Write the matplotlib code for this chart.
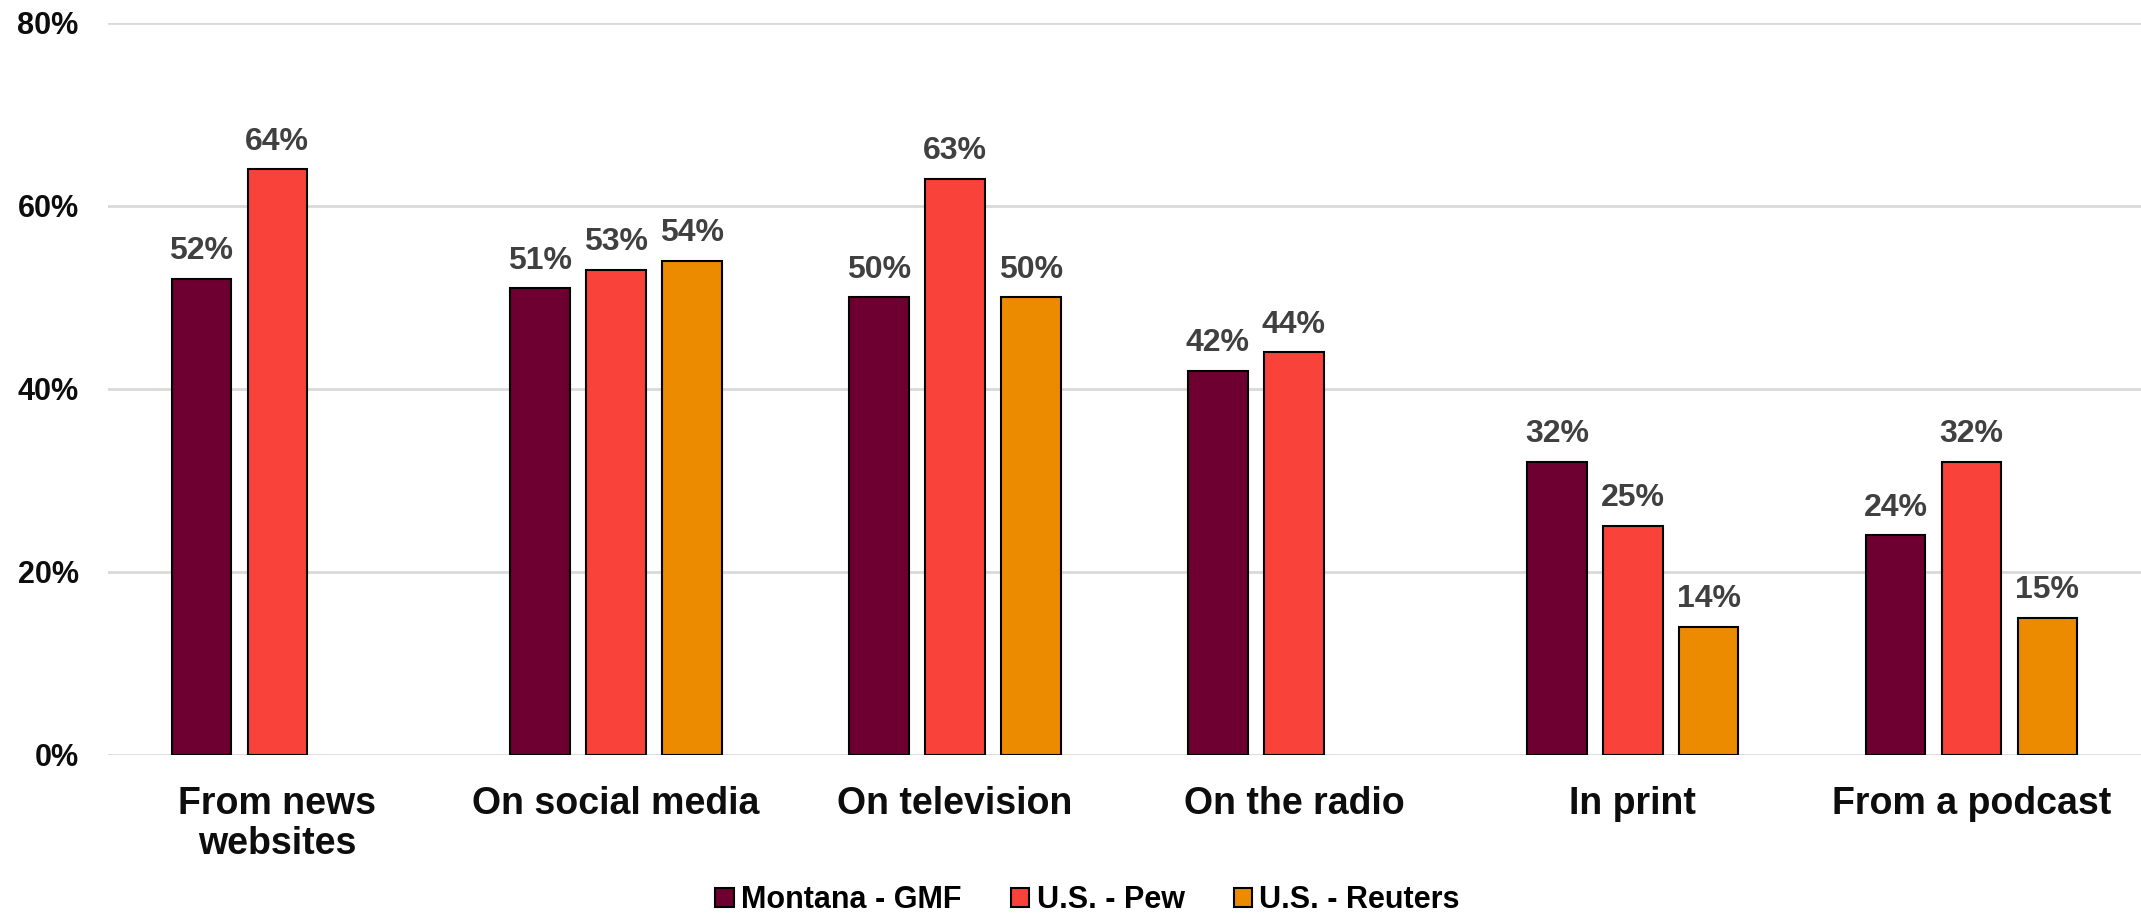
import numpy as np
import matplotlib.pyplot as plt

categories = ["From news\nwebsites", "On social media", "On television",
              "On the radio", "In print", "From a podcast"]
series = ["Montana - GMF", "U.S. - Pew", "U.S. - Reuters"]
montana = [52, 51, 50, 42, 32, 24]
pew = [64, 53, 63, 44, 25, 32]
reuters = [np.nan, 54, 50, np.nan, 14, 15]
colors = ["#6d0030", "#f9423a", "#ec8b00"]

plt.rcParams["font.family"] = "Liberation Sans"
plt.rcParams["font.weight"] = "bold"

fig = plt.figure(figsize=(21.41, 9.19), dpi=100)
ax = fig.add_axes([0.0504, 0.1785, 0.9496, 0.7965])

x = np.arange(len(categories))
w = 0.176
step = 0.224
for i, (vals, c, name) in enumerate(zip([montana, pew, reuters], colors, series)):
    pos = x + (i - 1) * step
    ax.bar(pos, vals, w, color=c, edgecolor="black", linewidth=1.5,
           label=name, zorder=3)
    for p, v in zip(pos, vals):
        if not np.isnan(v):
            ax.text(p, v + 1.4, f"{v:.0f}%", ha="center", va="bottom",
                    fontsize=23, fontweight="bold", color="#404040")

ax.set_xlim(-0.5, len(categories) - 0.5)
ax.set_ylim(0, 80)
ax.set_yticks([0, 20, 40, 60, 80])
ax.set_yticklabels(["0%", "20%", "40%", "60%", "80%"], fontsize=22,
                   fontweight="bold", color="#0d0d0d")
ax.set_xticks(x)
ax.set_xticklabels(categories, fontsize=27, fontweight="bold", color="#0d0d0d",
                   linespacing=1.15)
ax.tick_params(axis="both", length=0)
ax.tick_params(axis="y", pad=21)
ax.tick_params(axis="x", pad=22)
ax.grid(axis="y", color="#d9d9d9", linewidth=2, zorder=0)
for s in ax.spines.values():
    s.set_visible(False)

fig.legend(loc="lower center", bbox_to_anchor=(0.508, -0.026), ncol=3,
           frameon=False, fontsize=22, handlelength=0.6, handleheight=0.6,
           handletextpad=0.25, columnspacing=1.6)

fig.savefig("out.png", dpi=100)
